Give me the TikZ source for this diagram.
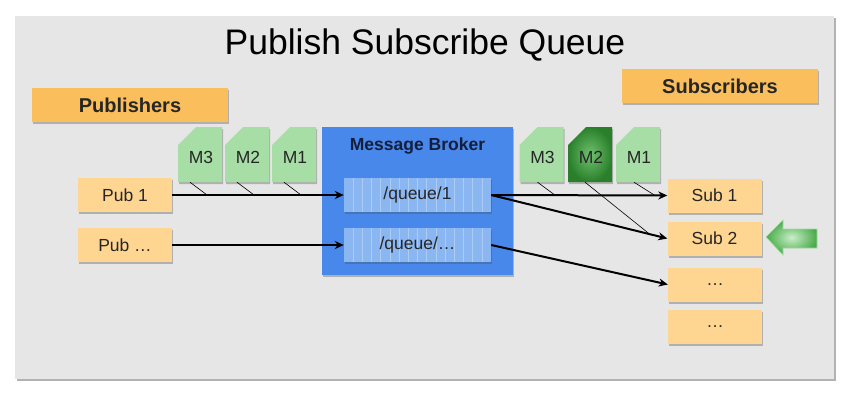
\documentclass[tikz,border=0pt]{standalone}
\usepackage{fontspec}
\setmainfont{Liberation Sans}
\usetikzlibrary{shadows,arrows.meta,calc}

\definecolor{panelgray}{RGB}{230,230,230}
\definecolor{hdrorange}{RGB}{250,190,92}
\definecolor{boxorange}{RGB}{255,213,146}
\definecolor{cardgreen}{RGB}{166,222,166}
\definecolor{darkgreen}{RGB}{42,128,42}
\definecolor{midgreen}{RGB}{112,192,112}
\definecolor{arrowgreen}{RGB}{72,170,72}
\definecolor{palegreen}{RGB}{200,238,200}
\definecolor{brokerblue}{RGB}{72,136,235}
\definecolor{queueblue}{RGB}{138,182,242}
\definecolor{navy}{RGB}{20,30,60}

\begin{document}
\begin{tikzpicture}[x=1pt,y=-1pt,
  softshadow/.style={drop shadow={shadow xshift=1pt,shadow yshift=-2pt,opacity=0.35,fill=black!70}},
  hdr/.style={fill=hdrorange,softshadow,minimum width=196pt,minimum height=34pt,inner sep=0pt,
    font=\fontsize{20}{24}\selectfont\bfseries,text=black!85},
  pubbox/.style={fill=boxorange,softshadow,minimum width=94pt,minimum height=34pt,inner sep=0pt,
    font=\fontsize{17.5}{20}\selectfont,text=black!85},
  broker/.style={fill=brokerblue,softshadow,minimum width=191pt,minimum height=148pt,inner sep=0pt},
  queue/.style={fill=queueblue,softshadow,minimum width=147pt,minimum height=34pt,inner sep=0pt,
    font=\fontsize{17.5}{20}\selectfont,text=black!85,
    path picture={\foreach \k in {1,...,15}
      \draw[white,opacity=0.3,line width=0.8pt]
        ([xshift=\k*9.2pt]path picture bounding box.south west) --
        ([xshift=\k*9.2pt]path picture bounding box.north west);}},
  card/.style={minimum width=44pt,minimum height=50pt,inner sep=0pt,
    font=\fontsize{17.5}{20}\selectfont,text=black!85},
  flow/.style={-{Stealth[length=9pt,width=8pt]},line width=2pt,black},
  tick/.style={line width=0.6pt,black}]

\useasboundingbox (0,0) rectangle (862,407);
\fill[white] (0,0) rectangle (862,407);

%Shape: Panel
\fill[black!30] (17,18) rectangle (836,381);
\fill[panelgray] (15,16) rectangle (834,379);

% Title
\node (title) at (425,45) {\fontsize{35.5}{40}\selectfont Publish Subscribe Queue};

% Headers
\node[hdr] (pubhdr) at (130,105) {Publishers};
\node[hdr] (subhdr) at (720,86) {Subscribers};

% Message broker with its queues
\node[broker] (broker) at (417.5,201) {};
\node[font=\fontsize{17.5}{20}\selectfont\bfseries,text=navy] (brokerlbl) at (417.5,146) {Message Broker};
\node[queue] (q1) at (417.5,195) {/queue/1};
\node[queue] (q2) at (417.5,245) {/queue/\dots};

% Publishers
\node[pubbox] (pub1) at (125,195) {Pub 1};
\node[pubbox] (pubn) at (125,245) {Pub \dots};

% Subscribers
\node[pubbox] (sub1) at (714.5,195.5) {Sub 1};
\node[pubbox] (sub2) at (714.5,238.5) {Sub 2};
\node[pubbox] (subd1) at (715,284.5) {\dots};
\node[pubbox] (subd2) at (715,326.5) {\dots};

% Message cards
\foreach \nm/\cx/\lbl in {m3l/200/M3, m2l/247/M2, m1l/294/M1, m3r/541.5/M3, m1r/638/M1}{
  \fill[cardgreen,softshadow] (\cx-22,182) -- (\cx-22,145) -- (\cx-4,127) -- (\cx+22,127) -- (\cx+22,182) -- cycle;
  \node[card] (\nm) at (\cx+1,157) {\lbl};
}
\shade[inner color=midgreen,outer color=darkgreen,softshadow] (568,182) -- (568,145) -- (586,127) -- (612,127) -- (612,182) -- cycle;
\node[card] (m2r) at (591,157) {M2};

% Flows
\draw[flow] (pub1) -- (q1);
\draw[flow] (pubn) -- (q2);
\draw[flow] (q1.east) -- (sub1.west);
\draw[flow] (q1.east) -- (sub2.west);
\draw[flow] (q2.east) -- (subd1.west);

% Cards riding on the flows
\foreach \nm in {m3l,m2l,m1l}
  \draw[tick] ([xshift=-11pt]\nm.south) -- ([xshift=6pt]\nm.south |- pub1.east);
\draw[tick] ([xshift=-5pt]m3r.south) -- ([xshift=13pt]m3r.south |- sub1.west);
\draw[tick] ([xshift=-5pt]m1r.south) -- ([xshift=16pt]m1r.south |- sub1.west);
\draw[tick] ([xshift=-6pt]m2r.south) -- ($(q1.east)!0.9!(sub2.west)$);

%Shape: Left arrow
\shade[inner color=palegreen,outer color=arrowgreen,draw=palegreen!70!arrowgreen,line width=0.6pt]
  (766,237) -- (783,220) -- (783,229) -- (817,229) -- (817,248) -- (783,248) -- (783,255) -- cycle;

\end{tikzpicture}
\end{document}
